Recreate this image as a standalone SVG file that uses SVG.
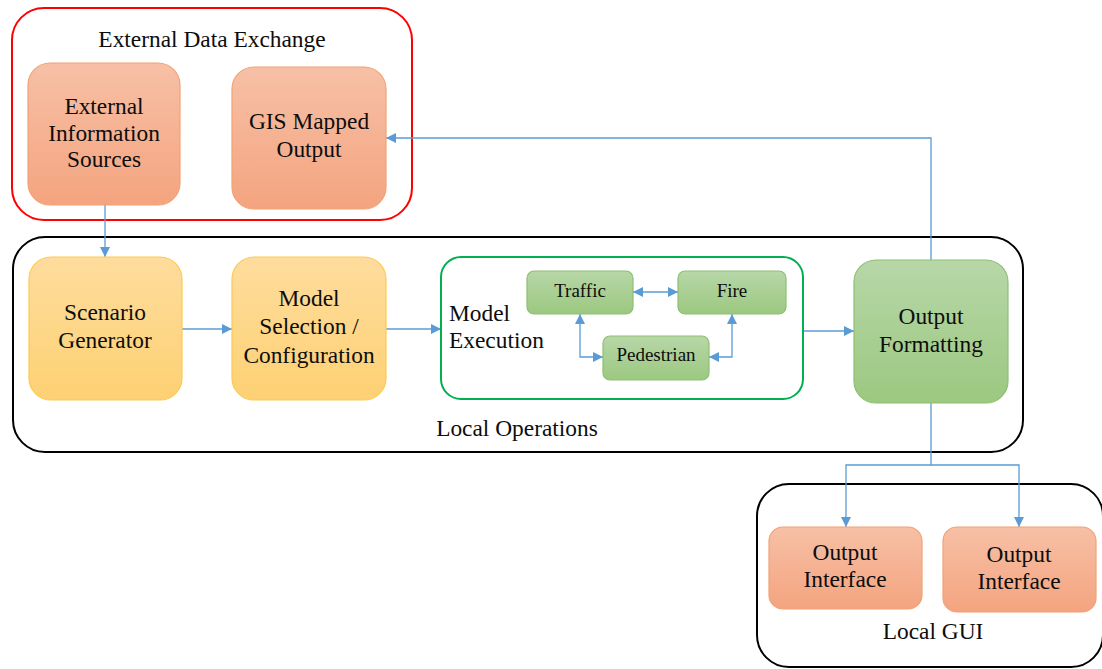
<svg xmlns="http://www.w3.org/2000/svg" width="1102" height="669" viewBox="0 0 1102 669">
  <defs>
    <linearGradient id="gOrange" x1="0" y1="0" x2="0" y2="1">
      <stop offset="0" stop-color="#f7c0a6"/>
      <stop offset="1" stop-color="#f4a47f"/>
    </linearGradient>
    <linearGradient id="gYellow" x1="0" y1="0" x2="0" y2="1">
      <stop offset="0" stop-color="#fedc9d"/>
      <stop offset="1" stop-color="#fdd173"/>
    </linearGradient>
    <linearGradient id="gGreen" x1="0" y1="0" x2="0" y2="1">
      <stop offset="0" stop-color="#b7d7a8"/>
      <stop offset="1" stop-color="#9cc880"/>
    </linearGradient>
    <marker id="arrow" viewBox="0 0 10 10" refX="10" refY="5" markerWidth="10" markerHeight="10" markerUnits="userSpaceOnUse" orient="auto-start-reverse">
      <path d="M0,0 L10,5 L0,10 z" fill="#5b9bd5"/>
    </marker>
  </defs>
  <style>
    text { font-family: 'Liberation Serif', 'Times New Roman', serif; fill: #0d0d0d; text-anchor: middle; }
    .big { font-size: 23.4px; }
    .small { font-size: 19px; }
    .left { text-anchor: start; }
    .container { fill: none; stroke-width: 2; }
    .orange { fill: url(#gOrange); stroke: #f2a275; stroke-width: 1.2; }
    .yellow { fill: url(#gYellow); stroke: #fcca52; stroke-width: 1.2; }
    .green { fill: url(#gGreen); stroke: #8dbf73; stroke-width: 1.2; }
    .conn { fill: none; stroke: #5b9bd5; stroke-width: 1.3; }
  </style>
  <rect width="1102" height="669" fill="#ffffff"/>

  <!-- container groups -->
  <g id="external-data-exchange">
    <rect class="container" x="12" y="8" width="400" height="212" rx="32" stroke="#ff0000"/>
    <text class="big" x="212" y="47">External Data Exchange</text>
  </g>
  <g id="local-operations">
    <rect class="container" x="13" y="237" width="1010" height="215" rx="32" stroke="#000000"/>
    <text class="big" x="517" y="436">Local Operations</text>
  </g>
  <g id="local-gui">
    <rect class="container" x="757" y="484" width="346" height="183" rx="32" stroke="#000000"/>
    <text class="big" x="933" y="639">Local GUI</text>
  </g>

  <!-- connectors -->
  <g id="connectors">
    <path class="conn" d="M105,205 V257" marker-end="url(#arrow)"/>
    <path class="conn" d="M182,329 H232" marker-end="url(#arrow)"/>
    <path class="conn" d="M386,329 H441" marker-end="url(#arrow)"/>
    <path class="conn" d="M803,331 H854" marker-end="url(#arrow)"/>
    <path class="conn" d="M931,260 V138 H386" marker-end="url(#arrow)"/>
    <path class="conn" d="M931,403 V465 H846 V527" marker-end="url(#arrow)"/>
    <path class="conn" d="M931,465 H1019 V527" marker-end="url(#arrow)"/>
    <path class="conn" d="M633,292 H678" marker-start="url(#arrow)" marker-end="url(#arrow)"/>
    <path class="conn" d="M580,314 V357 H603" marker-start="url(#arrow)" marker-end="url(#arrow)"/>
    <path class="conn" d="M732,314 V357 H709" marker-start="url(#arrow)" marker-end="url(#arrow)"/>
  </g>

  <!-- nodes -->
  <g id="external-information-sources">
    <rect class="orange" x="28" y="63" width="152" height="142" rx="22"/>
    <text class="big" x="104" y="114">External</text>
    <text class="big" x="104" y="141">Information</text>
    <text class="big" x="104" y="167">Sources</text>
  </g>
  <g id="gis-mapped-output">
    <rect class="orange" x="232" y="67" width="154" height="142" rx="22"/>
    <text class="big" x="309" y="129">GIS Mapped</text>
    <text class="big" x="309" y="157">Output</text>
  </g>
  <g id="scenario-generator">
    <rect class="yellow" x="29" y="257" width="153" height="143" rx="22"/>
    <text class="big" x="105" y="320">Scenario</text>
    <text class="big" x="105" y="348">Generator</text>
  </g>
  <g id="model-selection">
    <rect class="yellow" x="232" y="257" width="154" height="143" rx="22"/>
    <text class="big" x="309" y="306">Model</text>
    <text class="big" x="309" y="334">Selection /</text>
    <text class="big" x="309" y="363">Configuration</text>
  </g>
  <g id="model-execution">
    <rect x="441" y="257" width="362" height="142" rx="20" fill="none" stroke="#00b050" stroke-width="2"/>
    <text class="big left" x="449" y="321">Model</text>
    <text class="big left" x="449" y="348">Execution</text>
  </g>
  <g id="traffic">
    <rect class="green" x="527" y="271" width="106" height="43" rx="7"/>
    <text class="small" x="580" y="297">Traffic</text>
  </g>
  <g id="fire">
    <rect class="green" x="678" y="271" width="108" height="43" rx="7"/>
    <text class="small" x="732" y="297">Fire</text>
  </g>
  <g id="pedestrian">
    <rect class="green" x="603" y="336" width="106" height="44" rx="7"/>
    <text class="small" x="656" y="361">Pedestrian</text>
  </g>
  <g id="output-formatting">
    <rect class="green" x="854" y="260" width="154" height="143" rx="22"/>
    <text class="big" x="931" y="324">Output</text>
    <text class="big" x="931" y="352">Formatting</text>
  </g>
  <g id="output-interface-1">
    <rect class="orange" x="769" y="527" width="153" height="82" rx="14"/>
    <text class="big" x="845" y="560">Output</text>
    <text class="big" x="845" y="587">Interface</text>
  </g>
  <g id="output-interface-2">
    <rect class="orange" x="943" y="527" width="153" height="85" rx="14"/>
    <text class="big" x="1019" y="562">Output</text>
    <text class="big" x="1019" y="589">Interface</text>
  </g>
</svg>
